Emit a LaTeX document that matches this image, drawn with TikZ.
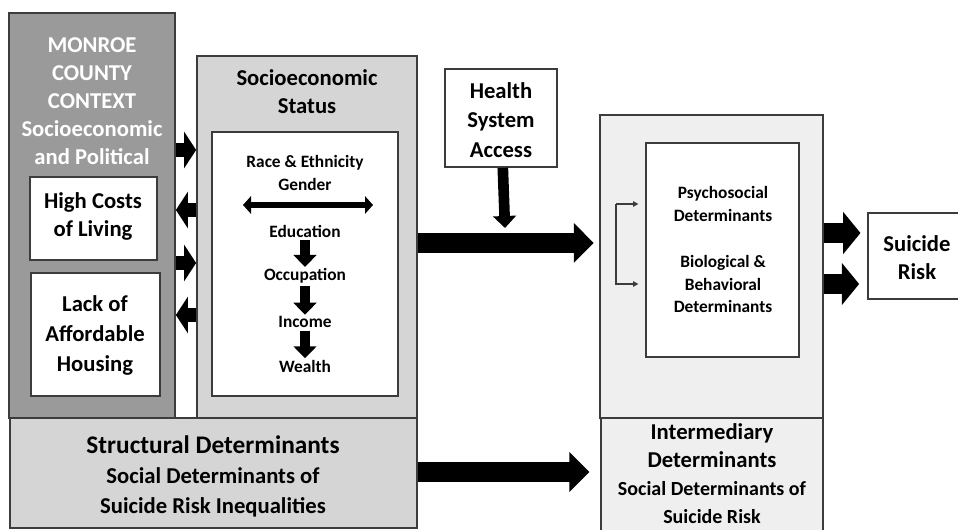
\documentclass[tikz,border=0pt]{standalone}
\usepackage{fontspec}
\setmainfont{Carlito}
\usepackage{tikz}
\usetikzlibrary{arrows.meta}
\usetikzlibrary{fit}
\definecolor{ctxgray}{HTML}{9A9A9A}
\definecolor{sesgray}{HTML}{D5D5D5}
\definecolor{intgray}{HTML}{EFEFEF}
\definecolor{edge}{HTML}{3C3C3C}
\tikzstyle{blk}=[draw=edge, line width=1.3pt, inner sep=0pt]
\tikzstyle{txt}=[align=center, inner sep=1pt, font=\bfseries\fontsize{17}{21}\selectfont]
\tikzstyle{sml}=[align=center, inner sep=1pt, font=\bfseries\fontsize{13}{17}\selectfont]
\tikzstyle{fat}=[line width=11pt, -{Triangle[length=9pt,width=27pt]}]
\tikzstyle{big}=[line width=15pt, -{Triangle[length=15pt,width=29pt]}]
\tikzstyle{down}=[line width=8pt, -{Triangle[length=9pt,width=17pt]}]
\tikzstyle{thinarr}=[draw=edge, line width=1pt, -{Triangle[length=4pt,width=4pt]}]

\begin{document}
\begin{tikzpicture}[x=0.75pt, y=-0.75pt]
\clip (0,0) rectangle (958,530);

% structural side
\node[blk, fill=ctxgray, fit={(9,13) (175,418)}] (ctx) {};
\node[txt, text=white] (monroe) at (92,101)
 {MONROE\\COUNTY\\CONTEXT\\Socioeconomic\\and Political};
\node[blk, fill=white, fit={(30,177) (157,260)}] (cost) {};
\node[txt] (costtxt) at (93,216) {High Costs\\of Living};
\node[blk, fill=white, fit={(31,273) (160,396)}] (lack) {};
\node[txt, font=\bfseries\fontsize{17}{22.5}\selectfont] (lacktxt) at (95,335)
 {Lack of\\Affordable\\Housing};

\node[blk, fill=sesgray, fit={(197,56) (417,418)}] (ses) {};
\node[txt] (sestitle) at (307,92) {Socioeconomic\\Status};
\node[blk, fill=white, fit={(212,132) (398,396)}] (inner) {};
\node[sml] (race) at (305,173) {Race \& Ethnicity\\Gender};
\coordinate (gl) at (243,205);
\coordinate (gr) at (373,205);
\node[sml] (edu) at (305,231) {Education};
\node[sml] (occ) at (305,276) {Occupation};
\node[sml] (inc) at (305,322) {Income};
\node[sml] (wlth) at (305,366) {Wealth};

\node[blk, fill=sesgray, fit={(10,418) (417,528)}] (struct) {};
\node[txt, font=\bfseries\fontsize{17}{22.5}\selectfont] (structtxt) at (213,476)
 {\fontsize{19}{23}\selectfont Structural Determinants\\
  \fontsize{17}{22.5}\selectfont Social Determinants of\\
  \fontsize{17}{22.5}\selectfont Suicide Risk Inequalities};

% health system
\node[blk, fill=white, fit={(445,69) (557,167)}] (hsa) {};
\node[txt, font=\bfseries\fontsize{17}{22}\selectfont] (hsatxt) at (501,120)
 {Health\\System\\Access};
\coordinate (join) at (505,228);

% intermediary side
\node[blk, fill=intgray, fit={(600,115) (823,418)}] (intup) {};
\node[blk, fill=white, fit={(646,143) (799,357)}] (inner2) {};
\node[sml] (psy) at (723,204) {Psychosocial\\Determinants};
\node[sml] (bio) at (723,284) {Biological \&\\Behavioral\\Determinants};
\node[blk, fill=intgray, fit={(601,418) (823,545)}] (intlow) {};
\node[txt] (inttxt) at (712,474)
 {\fontsize{17}{20}\selectfont Intermediary\\
  \fontsize{17}{20}\selectfont Determinants\\
  \fontsize{15}{19.5}\selectfont Social Determinants of\\
  \fontsize{15}{17}\selectfont Suicide Risk};

\node[blk, fill=white, fit={(868,213) (962,299)}] (risk) {};
\node[txt] (risktxt) at (917,258) {Suicide\\Risk};

% arrows
\draw[fat] (ctx.east |- 0,150) -- (ses.west |- 0,150);
\draw[fat] (ses.west |- 0,210) -- (ctx.east |- 0,210);
\draw[fat] (ctx.east |- 0,263) -- (ses.west |- 0,263);
\draw[fat] (ses.west |- 0,315) -- (ctx.east |- 0,315);

\draw[line width=4pt, {Triangle[length=6pt,width=13pt]}-{Triangle[length=6pt,width=13pt]}] (gl) -- (gr);
\draw[down, shorten <=1pt] (edu) -- (occ);
\draw[down, shorten <=1pt] (occ) -- (inc);
\draw[down, shorten <=1pt] (inc) -- (wlth);

\draw[down] (hsa) -- (join);
\draw[big, shorten >=4pt] (ses.east |- 0,243) -- (intup.west |- 0,243);
\draw[big, shorten >=8pt] (struct.east |- 0,472) -- (intlow.west |- 0,472);

\coordinate (brk) at (616,245);
\draw[thinarr] (brk |- psy) -- ([xshift=-5pt]inner2.west |- psy);
\draw[thinarr] (brk |- psy) -- (brk |- bio) -- ([xshift=-5pt]inner2.west |- bio);

\draw[big, -{Triangle[length=13pt,width=31pt]}, shorten >=5pt] (intup.east |- 0,233) -- (risk.west |- 0,233);
\draw[big, -{Triangle[length=13pt,width=31pt]}, shorten >=6pt] (intup.east |- 0,284) -- (risk.west |- 0,284);
\end{tikzpicture}
\end{document}
